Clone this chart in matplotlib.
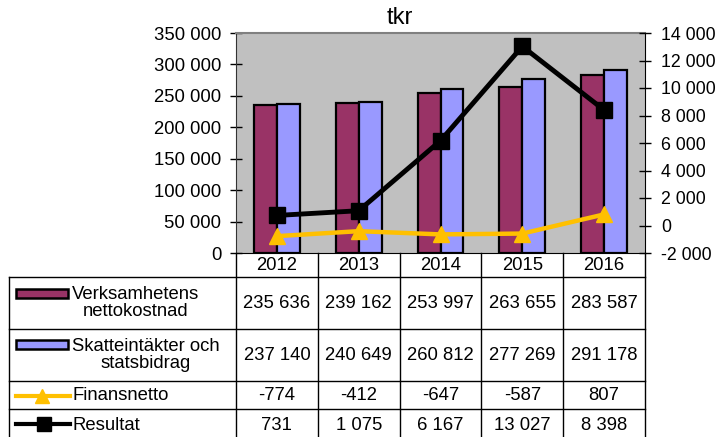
import numpy as np
from matplotlib import pyplot as plt
from matplotlib.patches import Rectangle
from matplotlib.lines import Line2D

years = ['2012', '2013', '2014', '2015', '2016']
netto_kostnad = [235636, 239162, 253997, 263655, 283587]
skatte_intakt = [237140, 240649, 260812, 277269, 291178]
finansnetto = [-774, -412, -647, -587, 807]
resultat = [731, 1075, 6167, 13027, 8398]

row_names = ['Verksamhetens\nnettokostnad', 'Skatteintäkter och\nstatsbidrag',
             'Finansnetto', 'Resultat']
left_ticks = np.arange(0, 350001, 50000)
right_ticks = np.arange(-2000, 14001, 2000)

c_maroon = '#993366'
c_lav = '#9999FF'
c_gold = '#FFC000'
c_gray = '#C0C0C0'


def fmt(v):
    s = '{:,}'.format(abs(v)).replace(',', ' ')
    return ('-' if v < 0 else '') + s


plt.rcParams['font.family'] = ['Liberation Sans', 'DejaVu Sans']
fs = 13.3

W, H = 717, 437
fig = plt.figure(figsize=(W / 100, H / 100), dpi=100)

x0, x1, y_top, y_bot = 236, 645, 33, 253
ax = fig.add_axes([x0 / W, 1 - y_bot / H, (x1 - x0) / W, (y_bot - y_top) / H])
ax.set_facecolor(c_gray)
x = np.arange(len(years))
bw = 0.28
ax.bar(x - bw / 2, netto_kostnad, bw, color=c_maroon, edgecolor='black', linewidth=1.6, zorder=2)
ax.bar(x + bw / 2, skatte_intakt, bw, color=c_lav, edgecolor='black', linewidth=1.6, zorder=2)
ax.set_xlim(-0.5, len(years) - 0.5)
ax.set_ylim(0, 350000)
ax.set_yticks(left_ticks)
ax.set_yticklabels([fmt(v) for v in left_ticks], fontsize=fs)
ax.tick_params(axis='y', direction='inout', length=9, width=1, pad=6)
ax.set_xticks([])
ax.spines['top'].set_color('#808080')
ax.spines['top'].set_linewidth(1.5)
ax.spines['left'].set_color('#333333')
ax.spines['right'].set_visible(False)
ax.spines['bottom'].set_color('black')
fig.text(400 / W, 1 - 18 / H, 'tkr', ha='center', va='center', fontsize=17)

ax2 = ax.twinx()
ax2.plot(x, finansnetto, color=c_gold, lw=3.2, marker='^', ms=11, zorder=3)
ax2.plot(x, resultat, color='black', lw=3.5, marker='s', ms=12, zorder=4)
ax2.set_ylim(-2000, 14000)
ax2.set_yticks(right_ticks)
ax2.set_yticklabels([fmt(v) for v in right_ticks], fontsize=12.8)
ax2.tick_params(axis='y', direction='inout', length=9, width=1, pad=7)
for s in ['top', 'left', 'bottom']:
    ax2.spines[s].set_visible(False)
ax2.spines['right'].set_color('black')

# data table drawn in pixel coordinates on an overlay axes
tab = fig.add_axes([0, 0, 1, 1])
tab.set_xlim(0, W)
tab.set_ylim(H, 0)
tab.axis('off')
col_w = (x1 - x0) / len(years)
row_edges = [253, 277, 329, 381, 409, 440]
left_edge = 9
lk = dict(color='black', lw=1)
for ry in row_edges[1:-1]:
    tab.plot([left_edge, x1], [ry, ry], **lk)
for i in range(len(years) + 1):
    tab.plot([x0 + i * col_w] * 2, [row_edges[0], H], **lk)
tab.plot([left_edge, left_edge], [row_edges[1], H], **lk)

for i, yr in enumerate(years):
    cx = x0 + (i + 0.5) * col_w
    tab.text(cx, (row_edges[0] + row_edges[1]) / 2, yr, ha='center', va='center', fontsize=fs)

series = [netto_kostnad, skatte_intakt, finansnetto, resultat]
for r, vals in enumerate(series):
    cy = (row_edges[r + 1] + row_edges[r + 2]) / 2
    if r == 3:
        cy = 425
    for i, v in enumerate(vals):
        tab.text(x0 + (i + 0.5) * col_w, cy, fmt(v), ha='center', va='center', fontsize=fs)
    tab.text(72, cy, row_names[r], ha='left', va='center', multialignment='center',
             fontsize=fs, linespacing=1.05)

# legend keys
key_y = [293.5, 344, 396, 424]
tab.add_patch(Rectangle((16, key_y[0] - 4.5), 52, 9, facecolor=c_maroon, edgecolor='black', lw=1.8))
tab.add_patch(Rectangle((16, key_y[1] - 4.5), 52, 9, facecolor=c_lav, edgecolor='black', lw=1.8))
tab.add_line(Line2D([16, 70], [key_y[2]] * 2, color=c_gold, lw=3))
tab.add_line(Line2D([42], [key_y[2]], color=c_gold, marker='^', ms=10, lw=0))
tab.add_line(Line2D([16, 70], [key_y[3]] * 2, color='black', lw=3))
tab.add_line(Line2D([44], [key_y[3]], color='black', marker='s', ms=10, lw=0))

fig.savefig('out.png', dpi=100)
